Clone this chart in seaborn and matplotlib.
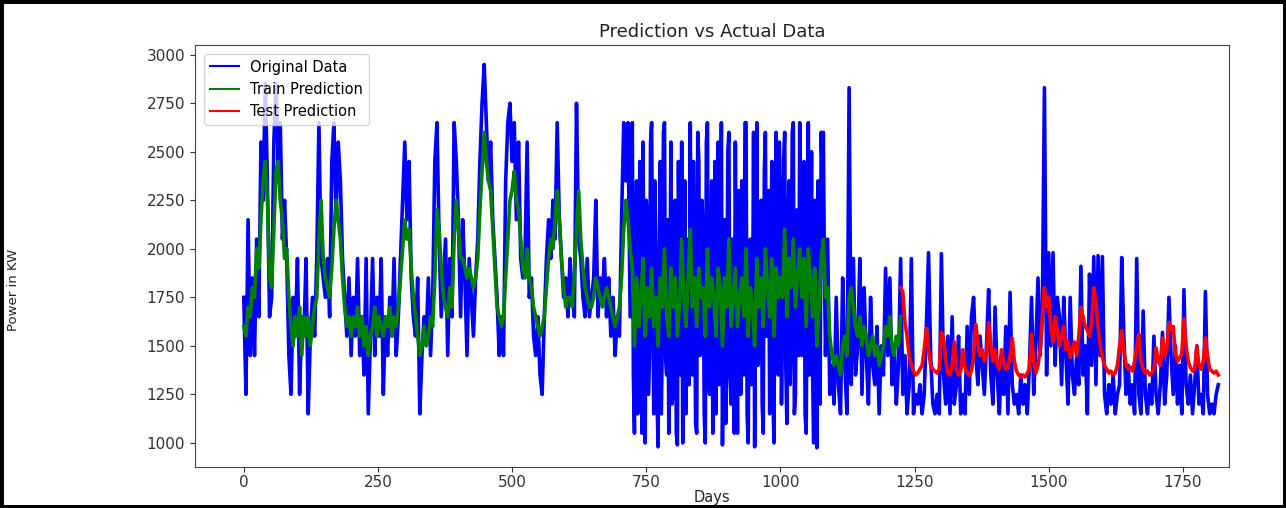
import matplotlib
matplotlib.use("Agg")
import matplotlib.pyplot as plt
import seaborn as sns
from matplotlib.patches import Rectangle

# daily power: every 4th day, every 2nd day in the busy stretch
orig_days_0_396 = [
    1750, 1250, 2150, 1450, 1850, 1450, 2050, 1650, 2550, 2250,
    2850, 2350, 1650, 1750, 2550, 2850, 2450, 2650, 2050, 2250,
    1950, 1450, 1250, 1750, 1550, 1950, 1250, 1650, 1550, 1950,
    1150, 1550, 1750, 1550, 1950, 2650, 1950, 1850, 1750, 1950,
    1650, 2450, 2650, 2150, 2550, 2350, 1950, 1750, 1550, 1850,
    1450, 1750, 1550, 1950, 1450, 1650, 1350, 1950, 1150, 1550,
    1950, 1450, 1750, 1550, 1950, 1250, 1650, 1450, 1750, 1550,
    1950, 1450, 1650, 1950, 2250, 2550, 2150, 2450, 1850, 1650,
    1550, 1850, 1150, 1450, 1650, 1550, 1850, 1450, 1750, 2450,
    2650, 2050, 1650, 1850, 2050, 1450, 1950, 1650, 2650, 2450,
]
orig_days_400_716 = [
    2150, 1650, 2150, 1850, 1450, 1950, 1750, 1550, 1850, 2050,
    2450, 2750, 2950, 2650, 2350, 2550, 2150, 1950, 1750, 1450,
    1650, 1450, 2350, 2650, 2750, 2450, 2650, 2150, 2550, 1950,
    1850, 1950, 2550, 1750, 1850, 1550, 1450, 1650, 1350, 1250,
    1650, 1950, 2150, 1950, 2250, 2050, 2650, 2150, 1950, 1750,
    1850, 1650, 1950, 1750, 1650, 2750, 2050, 1950, 1750, 1650,
    1950, 1650, 1750, 1850, 2250, 1650, 1850, 1750, 1950, 1650,
    1850, 1550, 1750, 1450, 1650, 1550, 2150, 2650, 2350, 2650,
]
orig_days_720_1088 = [
    1650, 2150, 2650, 1350, 1050, 1950, 2350, 1150, 1250, 2450,
    1850, 1050, 2550, 1650, 1000, 2250, 2150, 1250, 1450, 2550,
    2650, 1750, 1150, 2350, 1950, 1250, 980, 1850, 2450, 1150,
    1550, 2600, 2650, 1450, 1350, 2150, 1050, 1750, 2550, 1200,
    1250, 2050, 2250, 1050, 990, 2450, 1750, 1350, 2550, 1000,
    1450, 2350, 1150, 1850, 2050, 1300, 2650, 1550, 1350, 2450,
    1850, 1100, 1050, 2600, 2450, 1450, 1550, 2250, 2050, 1150,
    1000, 2550, 2650, 1350, 1250, 1950, 2350, 1050, 1650, 2450,
    1150, 2050, 2550, 1300, 1850, 2650, 990, 1600, 2150, 1100,
    1450, 2500, 2600, 1350, 1200, 2050, 1950, 1050, 2550, 1750,
    1050, 2300, 1750, 1250, 2350, 1550, 1350, 2650, 2650, 1150,
    1000, 1950, 2050, 1300, 1550, 2600, 980, 1850, 2650, 1400,
    1450, 2050, 2250, 1200, 1050, 2400, 2600, 1550, 1750, 2300,
    1150, 1800, 2450, 1250, 1000, 2150, 2600, 1650, 1350, 2550,
    2150, 1200, 1650, 2450, 2600, 1400, 1100, 2050, 2350, 1300,
    1550, 2600, 2650, 1150, 1250, 2200, 1950, 1450, 2650, 1750,
    1450, 2250, 2450, 1150, 1050, 1900, 2650, 1350, 1850, 2500,
    1350, 1000, 2250, 1600, 975, 2350, 1650, 1200, 2600, 2350,
    2600, 1900, 1450, 1750, 2050,
]
orig_days_1092_1196 = [
    1250, 1400, 1200, 1750, 1300, 1150, 1850,
    1400, 1150, 2830, 1300, 1950, 1350, 1500, 1950, 1250, 1800,
    1450, 1200, 1750, 1400, 1300, 1600, 1150, 1500, 1350, 1900,
]
orig_days_1200_1596 = [
    1450, 1850, 1300, 1500, 1200, 1400, 1950, 1250, 1450, 1150,
    1300, 1950, 1150, 1250, 1200, 1300, 1150, 1250, 1600, 1980,
    1450, 1200, 1150, 1250, 1150, 1975, 1350, 1200, 1550, 1150,
    1650, 1200, 1300, 1550, 1150, 1250, 1150, 1600, 1250, 1650,
    1750, 1450, 1300, 1550, 1400, 1250, 1500, 1790, 1350, 1200,
    1700, 1350, 1150, 1450, 1250, 1600, 1150, 1775, 1300, 1200,
    1250, 1150, 1350, 1200, 1300, 1150, 1400, 1750, 1250, 1500,
    1850, 1450, 1650, 2830, 1350, 1980, 1500, 1980, 1400, 1750,
    1650, 1300, 1750, 1450, 1200, 1750, 1350, 1250, 1450, 1300,
    1910, 1350, 1500, 1150, 1870, 1400, 1960, 1300, 1965, 1450,
]
orig_days_1600_1816 = [
    1960, 1250, 1150, 1300, 1200, 1350, 1150, 1250, 1300, 1955,
    1550, 1250, 1400, 1200, 1300, 1150, 1950, 1250, 1150, 1680,
    1250, 1150, 1300, 1200, 1550, 1250, 1150, 1300, 1570, 1200,
    1350, 1750, 1450, 1250, 1500, 1200, 1400, 1150, 1790, 1300,
    1200, 1350, 1150, 1300, 1500, 1200, 1250, 1150, 1780, 1250,
    1150, 1200, 1150, 1250, 1300,
]

train_pred = [
    1600, 1550, 1700, 1650, 1800, 1750, 2000, 1900, 2150, 2350,
    2450, 2250, 1850, 1800, 2100, 2400, 2450, 2250, 2150, 1950,
    2000, 1750, 1600, 1500, 1650, 1550, 1700, 1450, 1650, 1550,
    1650, 1500, 1600, 1700, 1750, 2050, 2250, 1950, 1850, 1800,
    1750, 1900, 2100, 2250, 2150, 2050, 1850, 1700, 1600, 1650,
    1550, 1650, 1600, 1700, 1550, 1650, 1500, 1600, 1450, 1550,
    1600, 1700, 1550, 1650, 1600, 1550, 1650, 1600, 1700, 1550,
    1650, 1600, 1700, 1850, 2000, 2150, 2050, 2100, 1900, 1750,
    1650, 1550, 1450, 1500, 1600, 1500, 1550, 1650, 1600, 1850,
    2200, 2100, 1900, 1750, 1700, 1650, 1800, 1700, 2050, 2250,
    2100, 1950, 1950, 1900, 1850, 1900, 1850, 1800, 1850, 1950,
    2200, 2400, 2600, 2450, 2350, 2300, 2100, 1900, 1700, 1650,
    1600, 1650, 1850, 2050, 2250, 2300, 2400, 2250, 2200, 2050,
    1900, 1850, 2000, 1850, 1800, 1700, 1650, 1600, 1550, 1600,
    1650, 1800, 1950, 2050, 2000, 2150, 2300, 2150, 1950, 1800,
    1700, 1750, 1750, 1700, 1850, 2100, 2300, 2050, 1900, 1800,
    1750, 1700, 1700, 1750, 1850, 1800, 1750, 1700, 1750, 1800,
    1750, 1700, 1650, 1600, 1650, 1700, 1850, 2100, 2250, 2150,
    2000, 1900, 1500, 1850, 1600, 1750, 1950, 1550, 1800, 1650,
    1900, 1600, 1750, 1500, 1850, 1700, 2000, 1650, 1550, 1900,
    1700, 1850, 1550, 1700, 2050, 1750, 1600, 1850, 2100, 1700,
    1850, 1600, 1900, 1750, 1800, 1550, 2000, 1700, 1850, 1750,
    1550, 1900, 1800, 1500, 1850, 1700, 2050, 1600, 1750, 1900,
    1600, 1750, 1850, 1650, 2000, 1550, 1800, 1700, 1500, 1950,
    1700, 1850, 1600, 2000, 1800, 1650, 1950, 1550, 1900, 1750,
    1850, 1750, 2100, 1650, 1950, 1800, 2050, 1700, 1850, 2000,
    1750, 1950, 1600, 2000, 1850, 1650, 1900, 1500, 1700, 1950,
    2050, 1750, 1800, 1550, 1450, 1400, 1450, 1400, 1350, 1500,
    1550, 1450, 1750, 1800, 1700, 1600, 1550, 1650, 1500, 1600,
    1550, 1450, 1500, 1550, 1450, 1500, 1400, 1450, 1500, 1600,
    1550, 1650, 1500, 1450, 1550, 1500, 1650,
]

test_pred = [
    1800, 1780, 1620, 1550, 1450, 1400, 1370, 1350, 1360, 1380,
    1400, 1480, 1590, 1480, 1400, 1380, 1370, 1360, 1380, 1570,
    1540, 1430, 1360, 1350, 1400, 1520, 1380, 1350, 1370, 1480,
    1390, 1360, 1350, 1370, 1450, 1610, 1520, 1450, 1480, 1420,
    1450, 1620, 1500, 1420, 1480, 1400, 1380, 1480, 1420, 1380,
    1390, 1450, 1540, 1420, 1370, 1350, 1340, 1350, 1340, 1360,
    1380, 1560, 1420, 1360, 1400, 1480, 1650, 1800, 1700, 1750,
    1600, 1520, 1650, 1580, 1500, 1550, 1600, 1480, 1520, 1440,
    1480, 1520, 1450, 1550, 1700, 1650, 1600, 1580, 1550, 1620,
    1800, 1720, 1600, 1500, 1440, 1400, 1380, 1360, 1370, 1350,
    1360, 1400, 1500, 1580, 1480, 1400, 1380, 1390, 1370, 1420,
    1500, 1560, 1420, 1380, 1360, 1370, 1350, 1360, 1380, 1490,
    1420, 1400, 1540, 1450, 1480, 1620, 1580, 1600, 1460, 1420,
    1440, 1460, 1640, 1500, 1420, 1390, 1370, 1380, 1500, 1400,
    1380, 1420, 1540, 1450, 1380, 1370, 1360, 1370, 1350,
]

original = (orig_days_0_396 + orig_days_400_716 + orig_days_720_1088
            + orig_days_1092_1196 + orig_days_1200_1596 + orig_days_1600_1816)
orig_days = (list(range(0, 717, 4)) + list(range(720, 1089, 2))
             + list(range(1092, 1817, 4)))
train_days = list(range(0, 1225, 4))
test_days = list(range(1224, 1817, 4))

fig = plt.figure(figsize=(12.86, 5.08), dpi=100)
ax = fig.add_axes([0.1516, 0.0807, 0.8041, 0.8307])

sns.lineplot(x=orig_days, y=original, color="blue", lw=2.6, label="Original Data", ax=ax)
sns.lineplot(x=train_days, y=train_pred, color="green", lw=2.6, label="Train Prediction", ax=ax)
sns.lineplot(x=test_days, y=test_pred, color="red", lw=2.6, label="Test Prediction", ax=ax)

ax.set_xlim(-91, 1836)
ax.set_ylim(876, 3050)
ax.set_xticks(range(0, 1751, 250))
ax.set_yticks(range(1000, 3001, 250))
ax.tick_params(labelsize=11, colors="#333333")
ax.tick_params(axis="x", pad=2)
for s in ax.spines.values():
    s.set_color("#444444")

ax.set_title("Prediction vs Actual Data", fontsize=13, color="#222222")
ax.set_xlabel("Days", fontsize=10.5, color="#222222", labelpad=0)
ax.set_ylabel("Power in KW", fontsize=9.5, color="#222222",
              family=["Liberation Sans Narrow", "DejaVu Sans"])
ax.yaxis.set_label_coords(-0.169, 0.42)
leg = ax.legend(loc="upper left", fontsize=10.5, borderaxespad=0.6)
for line in leg.get_lines():
    line.set_linewidth(1.5)

# black frame round the whole picture
fig.patches.append(Rectangle((0, 0), 1, 1, transform=fig.transFigure,
                             fill=False, lw=5, ec="black"))

fig.savefig("out.png", dpi=100)
